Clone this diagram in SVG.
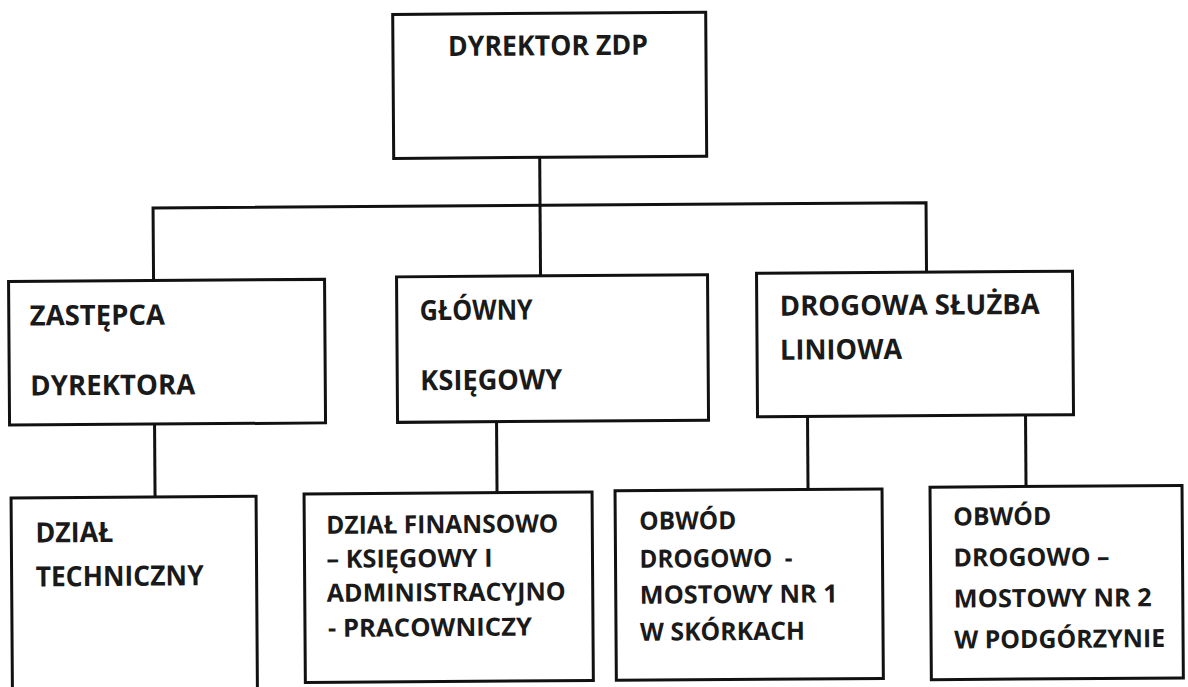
<svg xmlns="http://www.w3.org/2000/svg" width="1188" height="687" viewBox="0 0 1188 687">
<style>
.box{fill:#fff;stroke:#111;stroke-width:3}
.ln{fill:none;stroke:#111;stroke-width:3}
.t{font-family:"Open Sans","Liberation Sans",sans-serif;font-weight:700;font-size:28px;fill:#1a1a1a}
.s{font-size:25px}
</style>
<rect width="1188" height="687" fill="#fff"/>
<g transform="rotate(-0.4 594 343)">
<g id="connectors">
<path class="ln" d="M541 157 V275.5"/>
<path class="ln" d="M154 278 V205 H927 V274.5"/>
<path class="ln" d="M154 421 V494"/>
<path class="ln" d="M496 421 V492"/>
<path class="ln" d="M807 418 V491"/>
<path class="ln" d="M1025 418 V489.5"/>
</g>
<g id="dyrektor">
<rect class="box" x="395" y="13" width="313" height="144"/>
<text class="t" x="450" y="55" textLength="200" lengthAdjust="spacingAndGlyphs">DYREKTOR ZDP</text>
</g>
<g id="zastepca">
<rect class="box" x="9" y="277.5" width="316" height="143.5"/>
<text class="t" x="30" y="321.5" textLength="135" lengthAdjust="spacingAndGlyphs">ZASTĘPCA</text>
<text class="t" x="30" y="391.5" textLength="165" lengthAdjust="spacingAndGlyphs">DYREKTORA</text>
</g>
<g id="glowny">
<rect class="box" x="397" y="275.5" width="311" height="145.5"/>
<text class="t" x="420" y="319" textLength="113" lengthAdjust="spacingAndGlyphs">GŁÓWNY</text>
<text class="t" x="420" y="389" textLength="142" lengthAdjust="spacingAndGlyphs">KSIĘGOWY</text>
</g>
<g id="drogowa">
<rect class="box" x="757" y="274.5" width="316" height="143.5"/>
<text class="t" x="780" y="317" textLength="260" lengthAdjust="spacingAndGlyphs">DROGOWA SŁUŻBA</text>
<text class="t" x="780" y="361" textLength="122" lengthAdjust="spacingAndGlyphs">LINIOWA</text>
</g>
<g id="techniczny">
<rect class="box" x="10" y="494" width="245" height="230"/>
<text class="t" x="34" y="538.5" textLength="78" lengthAdjust="spacingAndGlyphs">DZIAŁ</text>
<text class="t" x="34" y="582.5" textLength="168" lengthAdjust="spacingAndGlyphs">TECHNICZNY</text>
</g>
<g id="finansowy">
<rect class="box" x="303" y="492" width="288" height="188.5"/>
<text class="t s" x="325" y="532" textLength="232" lengthAdjust="spacingAndGlyphs">DZIAŁ FINANSOWO</text>
<text class="t s" x="325" y="566" textLength="166" lengthAdjust="spacingAndGlyphs">– KSIĘGOWY I</text>
<text class="t s" x="325" y="600" textLength="239" lengthAdjust="spacingAndGlyphs">ADMINISTRACYJNO</text>
<text class="t s" x="326" y="635" textLength="204" lengthAdjust="spacingAndGlyphs">- PRACOWNICZY</text>
</g>
<g id="obwod1">
<rect class="box" x="614" y="491" width="267" height="189.5"/>
<text class="t s" x="638" y="530" textLength="97" lengthAdjust="spacingAndGlyphs">OBWÓD</text>
<text class="t s" x="638" y="568" textLength="153" lengthAdjust="spacingAndGlyphs" xml:space="preserve">DROGOWO  -</text>
<text class="t s" x="638" y="604" textLength="198" lengthAdjust="spacingAndGlyphs">MOSTOWY NR 1</text>
<text class="t s" x="638" y="641" textLength="165" lengthAdjust="spacingAndGlyphs">W SKÓRKACH</text>
</g>
<g id="obwod2">
<rect class="box" x="929" y="489.5" width="252" height="192.5"/>
<text class="t s" x="952" y="528" textLength="98" lengthAdjust="spacingAndGlyphs">OBWÓD</text>
<text class="t s" x="952" y="569" textLength="156" lengthAdjust="spacingAndGlyphs">DROGOWO –</text>
<text class="t s" x="952" y="610" textLength="198" lengthAdjust="spacingAndGlyphs">MOSTOWY NR 2</text>
<text class="t s" x="952" y="651" textLength="211" lengthAdjust="spacingAndGlyphs">W PODGÓRZYNIE</text>
</g>
</g>
</svg>
